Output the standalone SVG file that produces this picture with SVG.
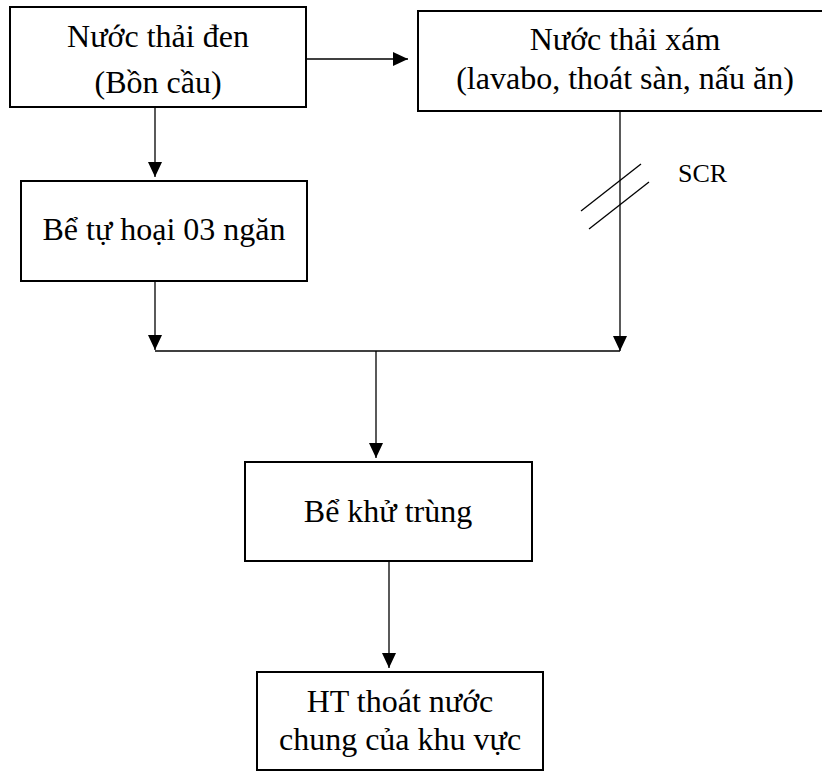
<svg xmlns="http://www.w3.org/2000/svg" width="822" height="771" viewBox="0 0 822 771">
<style>
.box{fill:#fff;stroke:#000;stroke-width:2}
.t{font-family:"Liberation Serif","Times New Roman",serif;font-size:32px;fill:#000;text-anchor:middle}
.c{stroke:#000;stroke-width:1.3;fill:none}
</style>
<defs>
<marker id="ah" markerUnits="userSpaceOnUse" markerWidth="15" markerHeight="14" refX="15" refY="7" orient="auto">
<path d="M0,0 L15,7 L0,14 z" fill="#000"/>
</marker>
</defs>
<rect width="822" height="771" fill="#fff"/>
<g id="n1">
<rect class="box" x="10" y="7" width="296" height="100"/>
<text class="t" x="158" y="47">Nước thải đen</text>
<text class="t" x="158" y="93">(Bồn cầu)</text>
</g>
<g id="n2">
<rect class="box" x="418" y="11" width="420" height="100"/>
<text class="t" x="625" y="50">Nước thải xám</text>
<text class="t" x="625" y="89">(lavabo, thoát sàn, nấu ăn)</text>
</g>
<g id="n3">
<rect class="box" x="21" y="181" width="286" height="100"/>
<text class="t" x="164" y="240">Bể tự hoại 03 ngăn</text>
</g>
<g id="n4">
<rect class="box" x="245" y="462" width="287" height="99"/>
<text class="t" x="388" y="522">Bể khử trùng</text>
</g>
<g id="n5">
<rect class="box" x="257" y="672" width="286" height="98"/>
<text class="t" x="400" y="712">HT thoát nước</text>
<text class="t" x="400" y="750">chung của khu vực</text>
</g>
<g id="connectors">
<line class="c" x1="306" y1="59" x2="408" y2="59" marker-end="url(#ah)"/>
<line class="c" x1="155" y1="107" x2="155" y2="177" marker-end="url(#ah)"/>
<line class="c" x1="155" y1="281" x2="155" y2="350" marker-end="url(#ah)"/>
<line class="c" x1="620" y1="111" x2="620" y2="351" marker-end="url(#ah)" stroke-width="1"/>
<line class="c" x1="155" y1="351" x2="620" y2="351"/>
<line class="c" x1="376" y1="351" x2="376" y2="458" marker-end="url(#ah)"/>
<line class="c" x1="389" y1="561" x2="389" y2="668" marker-end="url(#ah)"/>
<line class="c" x1="581" y1="211" x2="641" y2="164" stroke-width="1"/>
<line class="c" x1="589" y1="229" x2="649" y2="182" stroke-width="1"/>
<text x="678" y="182" font-family="Liberation Serif, Times New Roman, serif" font-size="26" fill="#000">SCR</text>
</g>
</svg>
